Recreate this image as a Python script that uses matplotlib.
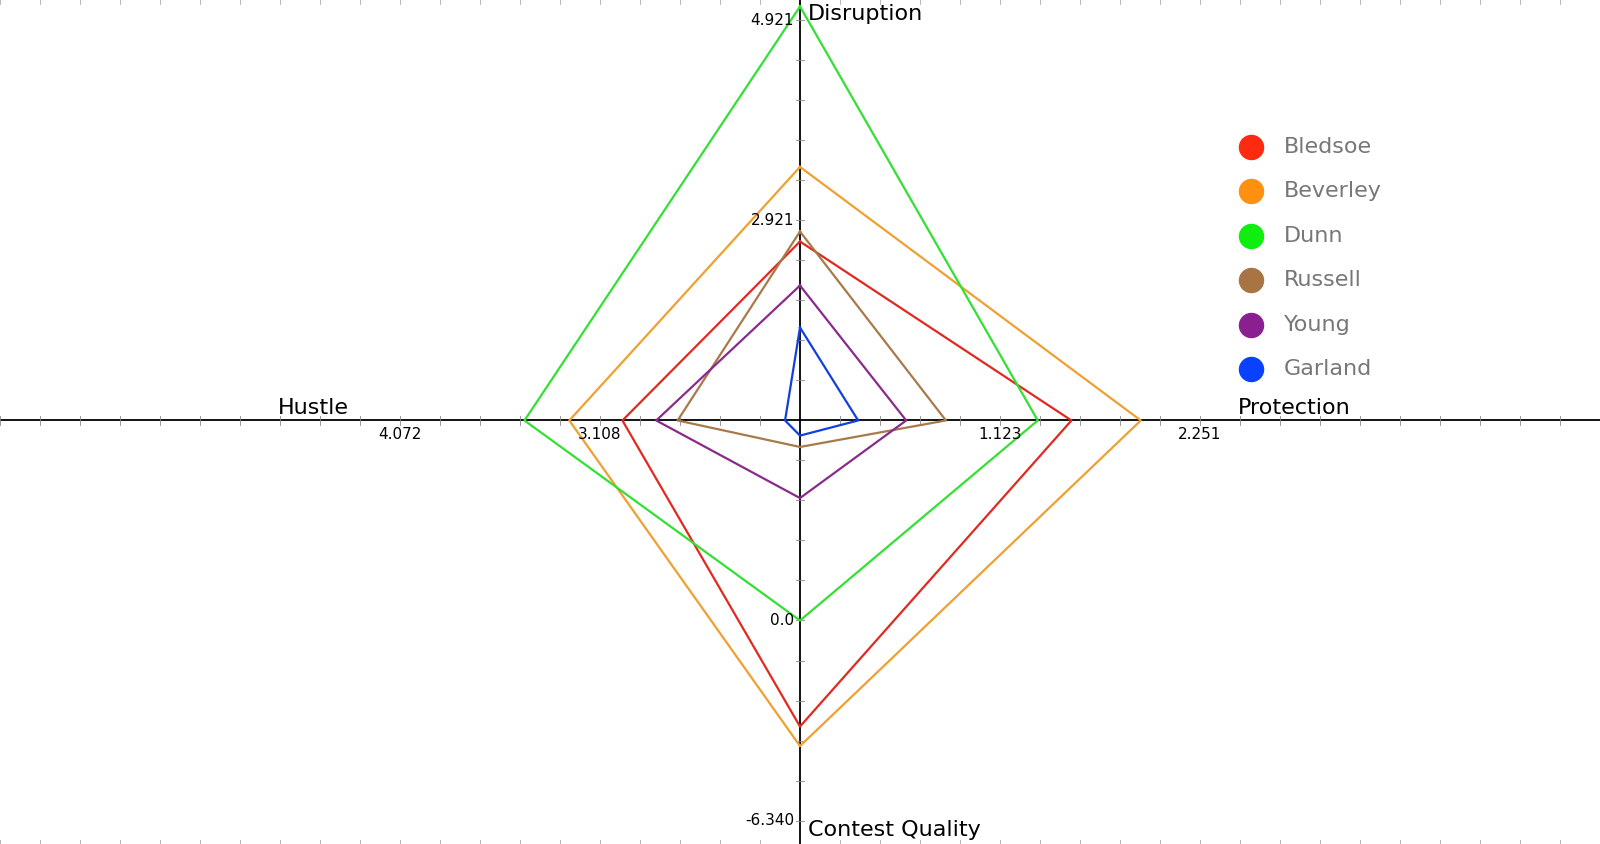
import matplotlib
matplotlib.use("Agg")
import matplotlib.pyplot as plt
import numpy as np

players = ["Bledsoe", "Beverley", "Dunn", "Russell", "Young", "Garland"]
disruption = [2.71, 3.456, 5.06, 2.81, 2.27, 1.85]
protection = [1.526, 1.917, 1.336, 0.818, 0.594, 0.323]
contest = [-3.36, -3.98, 0.0, 5.50, 3.88, 5.86]
hustle = [3.000, 3.256, 3.472, 2.734, 2.837, 2.216]
line_colors = ["#e02a20", "#f0a030", "#33e033", "#a87a4a", "#8a2a8a", "#1040e0"]
dot_colors = ["#ff2a10", "#ff9010", "#10ee10", "#a87444", "#8a2090", "#0a40ff"]

# axis scales: (value at first labelled tick, value at second labelled tick)
disr_ticks = (2.921, 4.921)
prot_ticks = (1.123, 2.251)
cont_ticks = (0.0, -6.340)
hust_ticks = (3.108, 4.072)

W, H = 1568, 827
cx, cy = 784, 412
T1, T2 = 196, 392  # pixel distances of labelled ticks

def dist(v, ticks):
    a, b = ticks
    return T1 + (v - a) / (b - a) * (T2 - T1)

fig = plt.figure(figsize=(16, 8.44), dpi=100)
ax = fig.add_axes([0, 0, 1, 1])
ax.set_xlim(0, W)
ax.set_ylim(H, 0)
ax.axis("off")

ax.plot([0, W], [cy, cy], color="black", lw=1.3)
ax.plot([cx, cx], [0, H], color="black", lw=1.3)
step = 39.2
for k in range(-25, 26):
    x = cx + k * step
    if 0 <= x <= W and k != 0:
        ax.plot([x, x], [cy - 4, cy + 4], color="#888888", lw=0.6)
        ax.plot([x, x], [H - 4, H], color="#aaaaaa", lw=0.6)
        ax.plot([x, x], [0, 4], color="#aaaaaa", lw=0.6)
    y = cy + k * step
    if 0 <= y <= H and k != 0:
        ax.plot([cx - 4, cx + 4], [y, y], color="#888888", lw=0.6)

for i, p in enumerate(players):
    up = dist(disruption[i], disr_ticks)
    rt = dist(protection[i], prot_ticks)
    dn = dist(contest[i], cont_ticks)
    lf = dist(hustle[i], hust_ticks)
    xs = [cx, cx + rt, cx, cx - lf, cx]
    ys = [cy - up, cy, cy + dn, cy, cy - up]
    ax.plot(xs, ys, color=line_colors[i], lw=1.6)

fs = 11
ax.text(cx - 6, cy - T1, f"{disr_ticks[0]:.3f}", ha="right", va="center", fontsize=fs)
ax.text(cx - 6, cy - T2, f"{disr_ticks[1]:.3f}", ha="right", va="center", fontsize=fs)
ax.text(cx - 6, cy + T1, "0.0", ha="right", va="center", fontsize=fs)
ax.text(cx - 6, cy + T2, f"{cont_ticks[1]:.3f}", ha="right", va="center", fontsize=fs)
ax.text(cx - T1, cy + 6, f"{hust_ticks[0]:.3f}", ha="center", va="top", fontsize=fs)
ax.text(cx - T2, cy + 6, f"{hust_ticks[1]:.3f}", ha="center", va="top", fontsize=fs)
ax.text(cx + T1, cy + 6, f"{prot_ticks[0]:.3f}", ha="center", va="top", fontsize=fs)
ax.text(cx + T2, cy + 6, f"{prot_ticks[1]:.3f}", ha="center", va="top", fontsize=fs)

afs = 16
ax.text(cx + 8, 14, "Disruption", ha="left", va="center", fontsize=afs)
ax.text(cx + 8, 813, "Contest Quality", ha="left", va="center", fontsize=afs)
ax.text(307, cy - 12, "Hustle", ha="center", va="center", fontsize=afs)
ax.text(1268, cy - 12, "Protection", ha="center", va="center", fontsize=afs)

for i, p in enumerate(players):
    y = 144 + i * 43.6
    ax.scatter([1226], [y], s=300, color=dot_colors[i], zorder=5)
    ax.text(1258, y, p, ha="left", va="center", fontsize=16, color="#777777")

fig.savefig("out.png", dpi=100)
